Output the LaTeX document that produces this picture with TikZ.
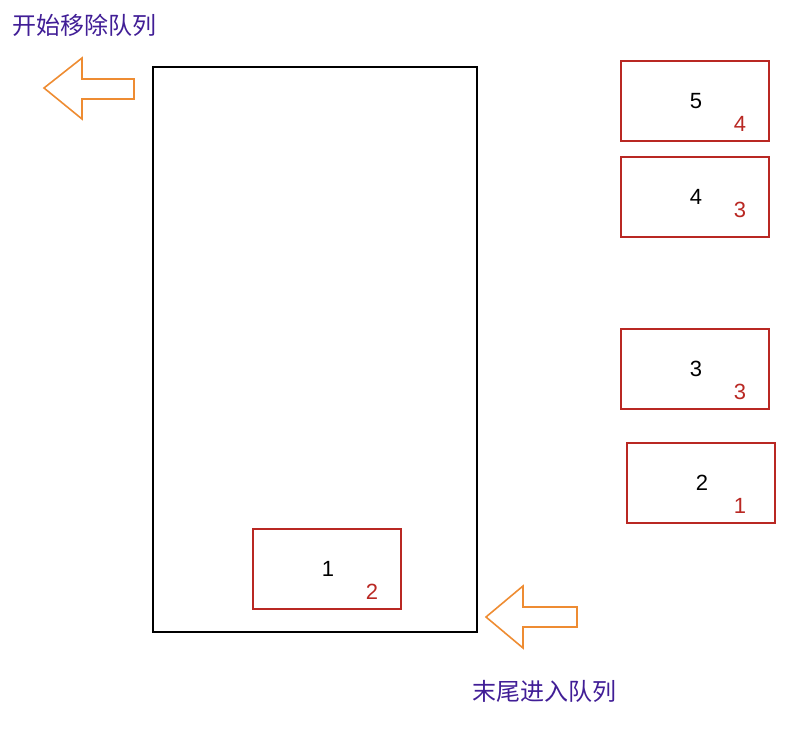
\documentclass[tikz,border=0pt]{standalone}
\usepackage{fontspec}
\setmainfont{Liberation Sans}
\newfontfamily\cjk{Noto Sans CJK SC}
\definecolor{qred}{RGB}{185,40,35}
\definecolor{qorange}{RGB}{238,140,50}
\definecolor{qpurple}{RGB}{65,30,150}
\tikzset{
  item/.style={draw=qred,line width=1.6pt,minimum width=148pt,minimum height=80pt,inner sep=0pt},
  num/.style={font=\fontsize{22}{22}\selectfont,inner sep=0pt},
  prio/.style={num,text=qred},
  caption/.style={font=\cjk\fontsize{24}{24}\selectfont,text=qpurple,inner sep=0pt},
  flow/.style={draw=qorange,line width=1.6pt,line join=miter}
}

\begin{document}
\begin{tikzpicture}[x=1pt,y=-1pt]
\useasboundingbox (0,0) rectangle (812,738);

\node[draw,line width=1.6pt,minimum width=324pt,minimum height=565pt,inner sep=0pt] (queue) at (315,349.5) {};

\node[item] (b1) at (327,569) {};
\node[num] (n1) at (328,569) {1};
\node[prio] (p1) at (372,592) {2};

\node[item] (b5) at (695,101) {};
\node[num] (n5) at (696,101) {5};
\node[prio] (p5) at (740,124) {4};

\node[item] (b4) at (695,197) {};
\node[num] (n4) at (696,197) {4};
\node[prio] (p4) at (740,210) {3};

\node[item] (b3) at (695,369) {};
\node[num] (n3) at (696,369) {3};
\node[prio] (p3) at (740,392) {3};

\node[item] (b2) at (701,483) {};
\node[num] (n2) at (702,483) {2};
\node[prio] (p2) at (740,506) {1};

\draw[flow] (44,88) -- (82,58) -- (82,79) -- (134,79) -- (134,99) -- (82,99) -- (82,119) -- cycle;
\draw[flow] (486,617) -- (523,586) -- (523,607) -- (577,607) -- (577,627) -- (523,627) -- (523,648) -- cycle;

\node[caption,anchor=west] (out) at (12,25) {开始移除队列};
\node[caption,anchor=west] (in) at (472,691) {末尾进入队列};

\end{tikzpicture}
\end{document}
